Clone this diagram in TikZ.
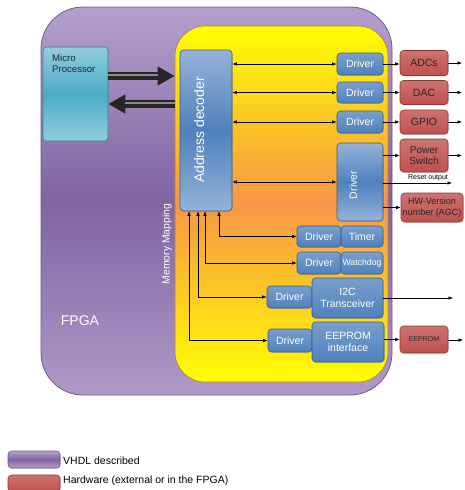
\documentclass[tikz,border=0pt]{standalone}
\usepackage{fontspec}
\setmainfont{Liberation Sans}
\usetikzlibrary{arrows.meta,shadows,calc}
\definecolor{purpM}{RGB}{128,100,162}
\definecolor{purpL}{RGB}{180,160,204}
\definecolor{purpD}{RGB}{112,86,148}
\definecolor{orgM}{RGB}{247,150,70}
\definecolor{yelD}{RGB}{190,120,60}
\definecolor{blueM}{RGB}{79,129,189}
\definecolor{blueL}{RGB}{149,179,215}
\definecolor{blueD}{RGB}{56,93,138}
\definecolor{redM}{RGB}{192,80,77}
\definecolor{redL}{RGB}{217,150,148}
\definecolor{redD}{RGB}{140,56,54}
\definecolor{tealM}{RGB}{75,172,198}
\definecolor{tealL}{RGB}{146,205,220}
\definecolor{tealD}{RGB}{49,133,155}
\tikzset{
  box/.style={rounded corners=3.5pt, inner sep=0pt, line width=0.6pt,
    drop shadow={opacity=0.3,shadow xshift=0.8pt,shadow yshift=-0.8pt}},
  drvbox/.style={box, draw=blueD, top color=blueL!60!blueM, bottom color=blueM,
    text=white, font=\fontsize{10.5}{12}\selectfont, align=center},
  decbox/.style={box, draw=blueD, top color=blueL, bottom color=blueL, middle color=blueM},
  redbox/.style={box, draw=redD, top color=redL!50!redM, bottom color=redM,
    text=black!85, font=\fontsize{10.5}{12}\selectfont, align=center},
  tealbox/.style={box, draw=tealD, top color=tealL, bottom color=tealL, middle color=tealM},
  conn/.style={line width=0.6pt, black},
  bigarrow/.style={line width=7.5pt, black!85, -{Triangle[length=17pt,width=18pt]}},
  wtext/.style={text=white, inner sep=0pt},
}
\begin{document}
\begin{tikzpicture}[x=1pt,y=-1pt,>={Latex[length=4.5pt,width=3.5pt]}]
\useasboundingbox (0,0) rectangle (464,490);

% FPGA area
\node[rounded corners=42pt, draw=purpD, line width=0.8pt, top color=purpL, bottom color=purpL!90!purpM,
  middle color=purpM, minimum width=351pt, minimum height=388pt, inner sep=0pt]
  (fpga) at (216.5,201) {};
\node[rounded corners=30pt, draw=yelD, line width=0.6pt, top color=yellow, bottom color=yellow,
  middle color=orgM, minimum width=213pt, minimum height=356pt, inner sep=0pt]
  (yel) at (281.5,204) {};

\node[wtext, font=\fontsize{14}{16}\selectfont] (fpgat) at (80,321) {FPGA};
\node[wtext, rotate=90, font=\fontsize{10.4}{12}\selectfont] (memt) at (167,244) {Memory Mapping};

% Micro processor
\node[tealbox, minimum width=65pt, minimum height=94pt] (mp) at (75.5,94) {};
\node[anchor=north west, inner sep=0pt, align=left, text=black!85,
  font=\fontsize{9.6}{11.5}\selectfont] (mpt) at (52,54) {Micro\\Processor};

% Address decoder
\node[decbox, minimum width=52pt, minimum height=161pt] (dec) at (206,130.5) {};
\node[wtext, rotate=90, font=\fontsize{14}{16}\selectfont] (dect) at (199,130) {Address decoder};

% big arrows
\coordinate (a1s) at ([yshift=18pt]mp.east);
\coordinate (a1e) at (a1s -| yel.west);
\coordinate (a2s) at ([yshift=-10pt]mp.east -| yel.west);
\coordinate (a2e) at ([yshift=-10pt]mp.east);
\draw[bigarrow] (a1s) -- (a1e);
\draw[bigarrow] (a2s) -- (a2e);
\draw[line width=1.2pt, black!45] ([yshift=1pt]a1s) -- ([xshift=-17pt,yshift=1pt]a1e);
\draw[line width=1.2pt, black!45] ([xshift=17pt,yshift=1pt]a2e) -- ([yshift=1pt]a2s);

% right drivers
\node[drvbox, minimum width=46pt, minimum height=22pt] (d1) at (360,64) {Driver};
\node[drvbox, minimum width=46pt, minimum height=21pt] (d2) at (360,92.5) {Driver};
\node[drvbox, minimum width=46pt, minimum height=22pt] (d3) at (360,122) {Driver};
\node[decbox, minimum width=46pt, minimum height=78pt] (d4) at (360,182) {};
\node[wtext, rotate=90, font=\fontsize{10.5}{12}\selectfont] (d4t) at (353,185) {Driver};

% hardware boxes
\node[redbox, minimum width=48pt, minimum height=25pt] (adc) at (424,63) {ADCs};
\node[redbox, minimum width=48pt, minimum height=24pt] (dac) at (424,92.5) {DAC};
\node[redbox, minimum width=48pt, minimum height=24pt] (gpio) at (424,122) {GPIO};
\node[redbox, minimum width=48pt, minimum height=33pt, font=\fontsize{10}{11}\selectfont]
  (pwr) at (424,155.5) {Power\\Switch};
\node[redbox, minimum width=62pt, minimum height=29pt, font=\fontsize{9}{11}\selectfont]
  (hw) at (432,207.5) {HW-Version\\number (AGC)};
\node[redbox, minimum width=48pt, minimum height=27pt, font=\fontsize{7}{8}\selectfont]
  (eep) at (424,339.5) {EEPROM};

% lower drivers
\node[drvbox, minimum width=44pt, minimum height=21pt] (dt) at (319,236.5) {Driver};
\node[drvbox, minimum width=42pt, minimum height=21pt] (tim) at (362,236.5) {Timer};
\node[drvbox, minimum width=44pt, minimum height=22pt] (dw) at (319,263) {Driver};
\node[drvbox, minimum width=42pt, minimum height=22pt, font=\fontsize{8.7}{10}\selectfont]
  (wd) at (362,263) {Watchdog};
\node[drvbox, minimum width=45pt, minimum height=22pt] (di) at (289.5,297) {Driver};
\node[drvbox, minimum width=71pt, minimum height=40pt] (i2c) at (347.5,298) {I2C\\Transceiver};
\node[drvbox, minimum width=44pt, minimum height=23pt] (de) at (290,340.5) {Driver};
\node[drvbox, minimum width=72pt, minimum height=40pt] (eei) at (348,342) {EEPROM\\interface};

% decoder to right drivers
\draw[conn,<->] (dec.east |- d1.west) -- (d1.west);
\draw[conn,<->] (dec.east |- d2.west) -- (d2.west);
\draw[conn,<->] (dec.east |- d3.west) -- (d3.west);
\draw[conn,<->] (dec.east |- d4.west) -- (d4.west);

% drivers to hardware
\draw[conn,->] (d1.east) -- (d1.east -| adc.west);
\draw[conn,->] (d2.east) -- (d2.east -| dac.west);
\draw[conn,->] (d3.east) -- (d3.east -| gpio.west);
\draw[conn,->] (d4.east |- pwr.west) -- (pwr.west);
\draw[conn,->] (d4.east |- hw.west) -- (hw.west);
\coordinate (rst) at (452,183);
\draw[conn,->] (d4.east |- rst) -- (rst);
\node[inner sep=0pt, font=\fontsize{7}{8}\selectfont] (rstt) at (428,177.5) {Reset output};

% outputs
\coordinate (oadc) at (462,63);
\coordinate (odac) at (462,92.5);
\coordinate (ogpio) at (462,122);
\coordinate (opwr) at (462,155.5);
\coordinate (oi2c) at (453,298);
\coordinate (oeep) at (463,340);
\draw[conn,->] (adc.east) -- (oadc);
\draw[conn,->] (dac.east) -- (odac);
\draw[conn,->] (gpio.east) -- (ogpio);
\draw[conn,->] (pwr.east) -- (opwr);
\draw[conn,->] (i2c.east |- oi2c) -- (oi2c);
\draw[conn,->] (eei.east |- eep.west) -- (eep.west);
\draw[conn,->] (eep.east |- oeep) -- (oeep);

% memory mapping lines
\coordinate (c1) at ($(dec.south)+(-17,0)$);
\coordinate (c2) at ($(dec.south)+(-8,0)$);
\coordinate (c3) at ($(dec.south)+(-1,0)$);
\coordinate (c4) at ($(dec.south)+(13,0)$);
\draw[conn,<->] (c4) |- (dt.west);
\draw[conn,<->] (c3) |- (dw.west);
\draw[conn,<->] (c2) |- (di.west);
\draw[conn,<->] (c1) |- (de.west);

% legend
\node[box, draw=purpD, top color=purpL, bottom color=purpL, middle color=purpM,
  minimum width=52pt, minimum height=17pt] (lgv) at (34,459.5) {};
\node[anchor=west, inner sep=0pt, font=\fontsize{10.5}{12}\selectfont] (lgvt) at (63,461) {VHDL described};
\node[box, draw=redD, top color=redL!50!redM, bottom color=redM,
  minimum width=52pt, minimum height=17pt] (lgr) at (34,483.5) {};
\node[anchor=west, inner sep=0pt, font=\fontsize{10.5}{12}\selectfont] (lgrt) at (63,481) {Hardware (external or in the FPGA)};
\end{tikzpicture}
\end{document}
